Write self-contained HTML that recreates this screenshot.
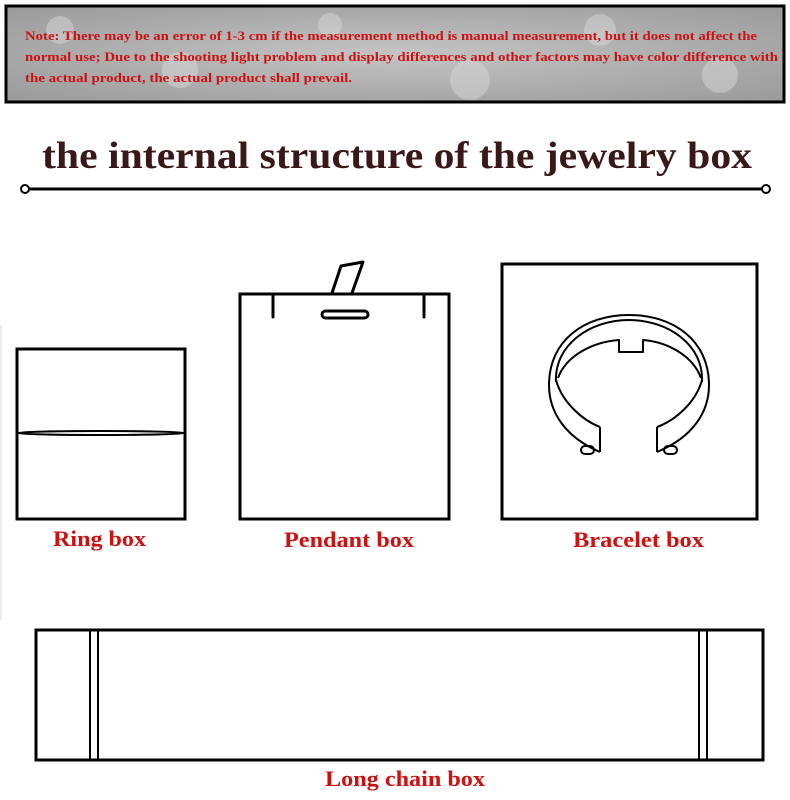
<!DOCTYPE html>
<html><head><meta charset="utf-8"><style>
html,body{margin:0;padding:0;background:#fff;}
svg{display:block;}
</style></head><body>
<svg width="790" height="800" viewBox="0 0 790 800" xmlns="http://www.w3.org/2000/svg">
<defs>
<radialGradient id="g" cx="50%" cy="50%" r="70%">
<stop offset="0" stop-color="#c4c4c4"/><stop offset="1" stop-color="#9a9a9a"/>
</radialGradient>
</defs>
<rect x="0" y="0" width="790" height="800" fill="#fff"/>
<rect x="6" y="6" width="778" height="96" fill="url(#g)" stroke="#000" stroke-width="3"/>
<g fill="#d8d8d8" opacity="0.5">
<circle cx="60" cy="30" r="14"/><circle cx="180" cy="70" r="18"/><circle cx="330" cy="25" r="12"/>
<circle cx="470" cy="80" r="20"/><circle cx="600" cy="30" r="16"/><circle cx="720" cy="75" r="18"/>
</g>
<g font-family="Liberation Serif, serif" font-weight="bold" font-size="12.5" fill="#cc1111">
<text x="25" y="40" textLength="732" lengthAdjust="spacingAndGlyphs">Note: There may be an error of 1-3 cm if the measurement method is manual measurement, but it does not affect the</text>
<text x="25" y="61" textLength="753" lengthAdjust="spacingAndGlyphs">normal use; Due to the shooting light problem and display differences and other factors may have color difference with</text>
<text x="25" y="82" textLength="327" lengthAdjust="spacingAndGlyphs">the actual product, the actual product shall prevail.</text>
</g>
<text x="42" y="168" font-family="Liberation Serif, serif" font-weight="bold" font-size="38" fill="#3a1818" textLength="710" lengthAdjust="spacingAndGlyphs">the internal structure of the jewelry box</text>
<line x1="29" y1="189" x2="762" y2="189" stroke="#000" stroke-width="3"/>
<circle cx="25" cy="189" r="4" fill="#fff" stroke="#000" stroke-width="2"/>
<circle cx="766" cy="189" r="4" fill="#fff" stroke="#000" stroke-width="2"/>
<line x1="1" y1="325" x2="1" y2="620" stroke="#ddd" stroke-width="1"/>
<g fill="none" stroke="#000" stroke-width="3">
<rect x="17" y="349" width="168" height="170"/>
<ellipse cx="101" cy="433" rx="84" ry="2" stroke-width="2"/>
<rect x="240" y="294" width="209" height="225"/>
<line x1="273" y1="294" x2="273" y2="317" stroke-linecap="round"/>
<line x1="424" y1="294" x2="424" y2="317" stroke-linecap="round"/>
<rect x="322" y="311" width="46" height="7" rx="3.5"/>
<path d="M332,293 L341,266 L363,262 L352,293" stroke-linejoin="round"/>
<rect x="502" y="264" width="255" height="255"/>
<rect x="36" y="630" width="727" height="130"/>
<line x1="90" y1="630" x2="90" y2="760" stroke-width="2"/>
<line x1="98" y1="630" x2="98" y2="760" stroke-width="2"/>
<line x1="699" y1="630" x2="699" y2="760" stroke-width="2"/>
<line x1="707" y1="630" x2="707" y2="760" stroke-width="2"/>
</g>
<g fill="none" stroke="#000" stroke-width="2" stroke-linejoin="round">
<path d="M600,452 C565,437 549,412 549,385 C549,340 585,315 629,315 C673,315 709,340 709,385 C709,412 693,437 657,452"/>
<path d="M556,382 C554,345 590,320 629,320 C668,320 704,345 702,382"/>
<path d="M556,380 C562,402 582,420 600,427"/>
<path d="M702,380 C696,402 676,420 657,427"/>
<path d="M558,378 C566,356 592,342 619,340 L619,352 L643,352 L643,340 C668,342 693,356 701,378"/>
<line x1="600" y1="427" x2="600" y2="452"/>
<line x1="657" y1="427" x2="657" y2="452"/>
<rect x="581" y="446" width="13" height="8" rx="4"/>
<rect x="664" y="446" width="13" height="8" rx="4"/>
</g>
<g font-family="Liberation Serif, serif" font-weight="bold" font-size="22" fill="#cc1111">
<text x="53" y="546" textLength="93" lengthAdjust="spacingAndGlyphs">Ring box</text>
<text x="284" y="547" textLength="130" lengthAdjust="spacingAndGlyphs">Pendant box</text>
<text x="573" y="547" textLength="131" lengthAdjust="spacingAndGlyphs">Bracelet box</text>
<text x="325" y="786" textLength="160" lengthAdjust="spacingAndGlyphs">Long chain box</text>
</g>
</svg>
</body></html>
